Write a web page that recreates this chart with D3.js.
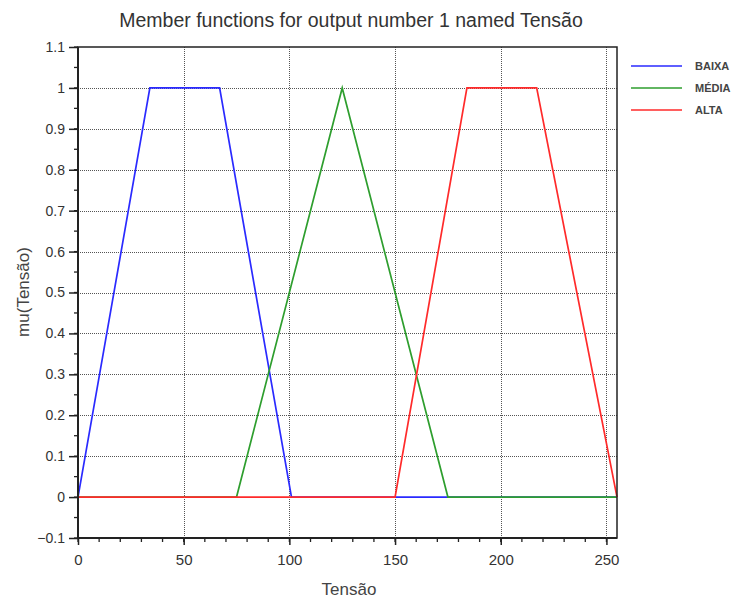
<!DOCTYPE html>
<html><head><meta charset="utf-8">
<script src="https://cdn.jsdelivr.net/npm/d3@7"></script>
<style>body{margin:0;background:#fff}svg{display:block}text{font-family:"Liberation Sans",Arial,sans-serif}</style>
</head><body>
<script>
const seriesNames = ["BAIXA", "MÉDIA", "ALTA"];
const seriesColors = ["#2a2aff", "#2e9e2e", "#ff2a2a"];
// membership function points over the universe [0, 255]
const baixaX = [0, 0, 34, 67, 101, 255];
const baixaY = [0, 0, 1, 1, 0, 0];
const mediaX = [0, 75, 125, 175, 255];
const mediaY = [0, 0, 1, 0, 0];
const altaX = [0, 150, 184, 217, 255, 255];
const altaY = [0, 0, 1, 1, 0, 0];
const xTicks = [0, 50, 100, 150, 200, 250];
const yTicks = [-0.1, 0, 0.1, 0.2, 0.3, 0.4, 0.5, 0.6, 0.7, 0.8, 0.9, 1, 1.1];
const xMinor = d3.range(0, 256, 10);
const yMinor = d3.range(-0.1, 1.1001, 0.05);
const titleText = "Member functions for output number 1 named Tensão";
const xLabel = "Tensão", yLabel = "mu(Tensão)";

const W = 742, H = 599;
const L = 78, R = 617, T = 47, B = 538;
const svg = d3.select("body").append("svg").attr("width", W).attr("height", H);
const x = d3.scaleLinear().domain([0, 255]).range([L, R]);
const y = d3.scaleLinear().domain([-0.1, 1.1]).range([B, T]);

// grid
const grid = svg.append("g").attr("stroke", "#555").attr("stroke-width", 1).attr("stroke-dasharray", "1,1");
grid.selectAll("line.v").data(xTicks.filter(d => d > 0)).join("line")
  .attr("x1", d => Math.round(x(d)) + 0.5).attr("x2", d => Math.round(x(d)) + 0.5).attr("y1", T).attr("y2", B);
grid.selectAll("line.h").data(yTicks.filter(d => d > -0.1 && d < 1.1)).join("line")
  .attr("y1", d => Math.round(y(d)) + 0.5).attr("y2", d => Math.round(y(d)) + 0.5).attr("x1", L).attr("x2", R);

// series
const series = [[baixaX, baixaY], [mediaX, mediaY], [altaX, altaY]];
const line = d3.line().x(d => x(d[0])).y(d => y(d[1]));
series.forEach((s, i) => {
  const pts = s[0].map((v, j) => [v, s[1][j]]);
  svg.append("path").datum(pts).attr("d", line).attr("fill", "none")
    .attr("stroke", seriesColors[i]).attr("stroke-width", 1.7);
});

// frame
svg.append("rect").attr("x", L).attr("y", T).attr("width", R - L).attr("height", B - T)
  .attr("fill", "none").attr("stroke", "#222").attr("stroke-width", 1.5);
svg.append("line").attr("x1", L).attr("x2", L).attr("y1", T).attr("y2", B).attr("stroke", "#222").attr("stroke-width", 2);
svg.append("line").attr("x1", L).attr("x2", R).attr("y1", B).attr("y2", B).attr("stroke", "#222").attr("stroke-width", 2);

// axes
const xAxis = d3.axisBottom(x).tickValues(xTicks).tickSize(7).tickPadding(9).tickFormat(d3.format("d"));
const gx = svg.append("g").attr("transform", `translate(0,${B})`).call(xAxis);
gx.select(".domain").remove();
gx.selectAll("line").attr("stroke", "#222").attr("stroke-width", 1.5);
gx.selectAll("text").attr("font-size", 15).attr("fill", "#333");
svg.append("g").selectAll("line").data(xMinor).join("line")
  .attr("x1", d => x(d)).attr("x2", d => x(d)).attr("y1", B).attr("y2", B + 4)
  .attr("stroke", "#222").attr("stroke-width", 1.3);

const yAxis = d3.axisLeft(y).tickValues(yTicks).tickSize(9).tickPadding(4).tickFormat(d => d3.format("~g")(+d.toFixed(2)));
const gy = svg.append("g").attr("transform", `translate(${L},0)`).call(yAxis);
gy.select(".domain").remove();
gy.selectAll("line").attr("stroke", "#222").attr("stroke-width", 1.5);
gy.selectAll("text").attr("font-size", 14).attr("fill", "#333");
svg.append("g").selectAll("line").data(yMinor).join("line")
  .attr("y1", d => y(d)).attr("y2", d => y(d)).attr("x1", L - 4).attr("x2", L)
  .attr("stroke", "#222").attr("stroke-width", 1.3);

// title & labels
svg.append("text").attr("x", 351).attr("y", 27).attr("text-anchor", "middle")
  .attr("font-size", 19.5).attr("fill", "#333").text(titleText);
svg.append("text").attr("x", 349).attr("y", 595).attr("text-anchor", "middle")
  .attr("font-size", 17).attr("fill", "#444").text(xLabel);
svg.append("text").attr("transform", "translate(29,292) rotate(-90)").attr("text-anchor", "middle")
  .attr("font-size", 17).attr("fill", "#444").text(yLabel);

// legend
const lg = svg.append("g");
seriesNames.forEach((n, i) => {
  const yy = 66 + i * 22;
  lg.append("line").attr("x1", 631).attr("x2", 682).attr("y1", yy).attr("y2", yy)
    .attr("stroke", seriesColors[i]).attr("stroke-width", 1.7);
  lg.append("text").attr("x", 695).attr("y", yy + 4).attr("font-size", 11).attr("font-weight", "bold")
    .attr("fill", "#444").text(n);
});
</script>
</body></html>
